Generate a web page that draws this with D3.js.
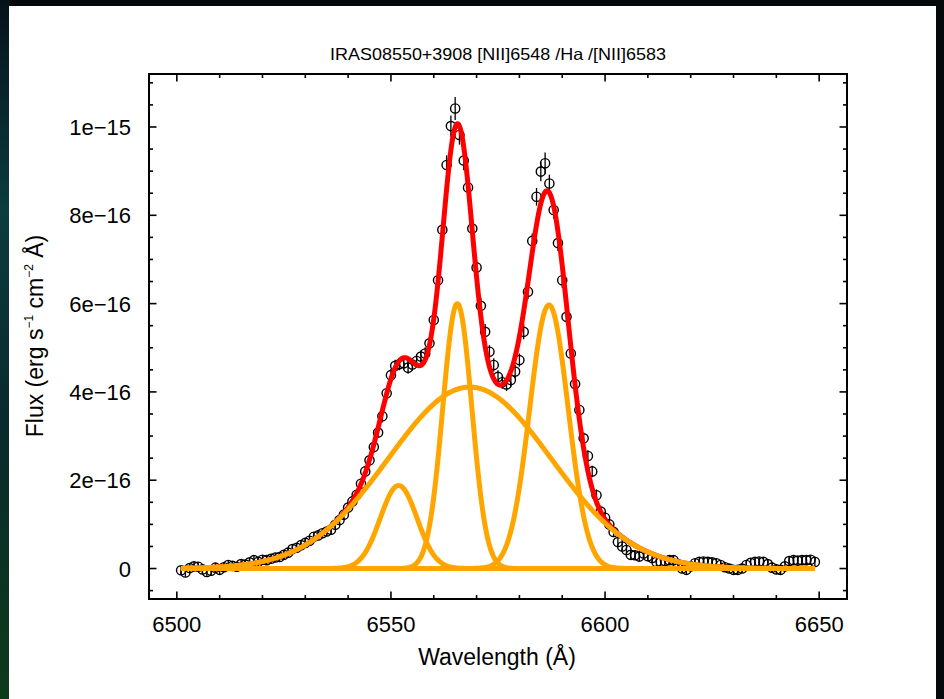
<!DOCTYPE html>
<html><head><meta charset="utf-8">
<script src="https://cdn.jsdelivr.net/npm/d3@7"></script>
<style>html,body{margin:0;padding:0;background:#05090c;} svg{display:block;}</style>
</head><body>
<svg id="c" width="944" height="699"></svg>
<script>
// ---------------- DATA (flux in units of 1e-16 erg s^-1 cm^-2 Å^-1) ----------------
const titleText = "IRAS08550+3908 [NII]6548 /Ha /[NII]6583";
const wavelengthStart = 6501, wavelengthEnd = 6649; // 1 Å sampling
const fluxObserved = [
 -0.04,-0.09, 0.01, 0.05, 0.04,-0.02,-0.08,-0.05, 0.02,-0.03,   // 6501-6510
  0.03, 0.08, 0.06, 0.04, 0.10, 0.09, 0.14, 0.19, 0.15, 0.20,   // 6511-6520
  0.19, 0.22, 0.25, 0.26, 0.31, 0.36, 0.44, 0.47, 0.53, 0.58,   // 6521-6530
  0.63, 0.72, 0.75, 0.80, 0.84, 0.88, 0.99, 1.10, 1.22, 1.38,   // 6531-6540
  1.52, 1.67, 1.92, 2.20, 2.45, 2.75, 3.08, 3.45, 3.97, 4.38,   // 6541-6550
  4.59, 4.63, 4.65, 4.55, 4.62, 4.70, 4.80, 4.87, 5.10, 5.63,   // 6551-6560
  6.53, 7.67, 9.14,10.02,10.42, 9.82, 9.24, 8.63, 7.70, 6.82,   // 6561-6570
  5.95, 5.36, 4.91, 4.61, 4.34, 4.22, 4.17, 4.27, 4.46, 4.72,   // 6571-6580
  5.36, 6.27, 7.42, 8.42, 8.99, 9.18, 8.72, 8.12, 7.37, 6.53,   // 6581-6590
  5.70, 4.87, 4.18, 3.59, 2.95, 2.55, 2.20, 1.66, 1.29, 1.15,   // 6591-6600
  1.00, 0.83, 0.60, 0.50, 0.42, 0.31, 0.30, 0.27, 0.34, 0.28,   // 6601-6610
  0.24, 0.15, 0.15, 0.17, 0.19, 0.19, 0.10, 0.00,-0.03, 0.05,   // 6611-6620
  0.12, 0.15, 0.16, 0.15, 0.14, 0.12, 0.08, 0.03, 0.00,-0.03,   // 6621-6630
 -0.03, 0.00, 0.08, 0.13, 0.15, 0.16, 0.15, 0.10, 0.02,-0.02,   // 6631-6640
 -0.03, 0.05, 0.17, 0.19, 0.18, 0.19, 0.19, 0.20, 0.15          // 6641-6649
];
const fluxError = [
  0.10,0.10,0.10,0.10,0.10,0.10,0.10,0.10,0.10,0.10,
  0.10,0.10,0.10,0.10,0.10,0.10,0.10,0.10,0.10,0.10,
  0.10,0.10,0.10,0.10,0.10,0.10,0.10,0.10,0.10,0.10,
  0.10,0.10,0.10,0.10,0.10,0.10,0.10,0.12,0.12,0.12,
  0.12,0.12,0.12,0.12,0.12,0.12,0.12,0.14,0.14,0.14,
  0.14,0.14,0.14,0.14,0.14,0.14,0.14,0.14,0.14,0.17,
  0.17,0.17,0.22,0.24,0.26,0.22,0.22,0.20,0.18,0.18,
  0.18,0.18,0.15,0.15,0.15,0.15,0.15,0.15,0.15,0.15,
  0.17,0.17,0.17,0.20,0.22,0.24,0.20,0.20,0.18,0.17,
  0.16,0.15,0.14,0.13,0.13,0.13,0.13,0.13,0.13,0.13,
  0.10,0.10,0.10,0.10,0.10,0.10,0.10,0.10,0.10,0.10,
  0.10,0.10,0.10,0.10,0.10,0.10,0.10,0.10,0.10,0.10,
  0.10,0.10,0.10,0.10,0.10,0.10,0.10,0.10,0.10,0.10,
  0.10,0.10,0.10,0.10,0.10,0.10,0.10,0.10,0.10,0.10,
  0.10,0.10,0.10,0.10,0.10,0.10,0.10,0.10,0.10
];
// Gaussian fit components: [NII]6548, Ha narrow, [NII]6583, Ha broad
const componentCenter    = [6551.8, 6565.5, 6586.9, 6568.4];
const componentAmplitude = [1.88,   6.00,   5.97,   4.11];
const componentSigma     = [4.3,    3.4,    4.5,    19.0];

const xTickValues = [6500, 6550, 6600, 6650];
const xTickLabels = ["6500", "6550", "6600", "6650"];
const yTickValues = [0, 2, 4, 6, 8, 10];
const yTickLabels = ["0", "2e\u221216", "4e\u221216", "6e\u221216", "8e\u221216", "1e\u221215"];

// ---------------- LAYOUT ----------------
const svg = d3.select("#c");
const W = 944, H = 699;
const L = 149, R = 847, T = 74, B = 599;
const FONT = "'Liberation Sans', Arial, Helvetica, sans-serif";

const defs = svg.append("defs");
const g1 = defs.append("linearGradient").attr("id","bgL").attr("x1",0).attr("y1",0).attr("x2",0).attr("y2",1);
g1.append("stop").attr("offset","0%").attr("stop-color","#06121a");
g1.append("stop").attr("offset","30%").attr("stop-color","#0c3b40");
g1.append("stop").attr("offset","60%").attr("stop-color","#0a2a2c");
g1.append("stop").attr("offset","100%").attr("stop-color","#0e3a1c");
svg.append("rect").attr("width",W).attr("height",H).attr("fill","#05090c");
svg.append("rect").attr("x",0).attr("y",0).attr("width",10).attr("height",H).attr("fill","url(#bgL)");
svg.append("rect").attr("x",9).attr("y",6).attr("width",927).attr("height",H-6).attr("fill","#ffffff");

const x = d3.scaleLinear().domain([6493.5, 6656.5]).range([L, R]);
const y = d3.scaleLinear().domain([-0.69, 11.2]).range([B, T]);

// title
svg.append("text").attr("x", 498).attr("y", 60).attr("text-anchor","middle")
  .attr("font-family", FONT).attr("font-size", 16.5)
  .attr("textLength", 336).attr("lengthAdjust","spacingAndGlyphs")
  .attr("fill","#000").text(titleText);

const plot = svg.append("g");
const clip = defs.append("clipPath").attr("id","pc");
clip.append("rect").attr("x",L).attr("y",T).attr("width",R-L).attr("height",B-T);

// data points with error bars
const wl = d3.range(wavelengthStart, wavelengthEnd + 1);
const pts = wl.map((w, i) => ({w, f: fluxObserved[i], e: fluxError[i]}));
const dg = plot.append("g").attr("clip-path","url(#pc)");
dg.selectAll("line.err").data(pts).join("line").attr("class","err")
  .attr("x1", d => x(d.w)).attr("x2", d => x(d.w))
  .attr("y1", d => y(d.f - d.e)).attr("y2", d => y(d.f + d.e))
  .attr("stroke","#000").attr("stroke-width",1.3);
dg.selectAll("circle").data(pts).join("circle")
  .attr("cx", d => x(d.w)).attr("cy", d => y(d.f)).attr("r", 4.6)
  .attr("fill","none").attr("stroke","#000").attr("stroke-width",1.4);

// fit curves
const fine = d3.range(wavelengthStart, wavelengthEnd + 0.001, 0.2);
const gauss = (k, w) => componentAmplitude[k] * Math.exp(-((w - componentCenter[k]) ** 2) / (2 * componentSigma[k] ** 2));
const line = d3.line().x(d => x(d[0])).y(d => y(d[1]));
const total = fine.map(w => [w, d3.sum(componentCenter, (c, k) => gauss(k, w))]);
plot.append("path").datum(total).attr("d", line).attr("fill","none")
  .attr("stroke","#ff0000").attr("stroke-width",5).attr("stroke-linejoin","round");
componentCenter.forEach((c, k) => {
  plot.append("path").datum(fine.map(w => [w, gauss(k, w)])).attr("d", line)
    .attr("fill","none").attr("stroke","#ffa500").attr("stroke-width",5).attr("stroke-linejoin","round");
});

// axes frame and ticks
const ax = svg.append("g").attr("stroke","#000");
const xMinor = d3.range(6500, 6651, 10);
const yMinor = d3.range(-0.5, 11.01, 0.5);
xMinor.forEach(v => {
  const major = xTickValues.includes(v);
  const len = major ? 7.5 : 4;
  ax.append("line").attr("x1",x(v)).attr("x2",x(v)).attr("y1",B).attr("y2",B-len).attr("stroke-width",1.6);
  ax.append("line").attr("x1",x(v)).attr("x2",x(v)).attr("y1",T).attr("y2",T+len).attr("stroke-width",1.6);
});
yMinor.forEach(v => {
  const major = yTickValues.some(t => Math.abs(t - v) < 1e-6);
  const len = major ? 7.5 : 4;
  ax.append("line").attr("y1",y(v)).attr("y2",y(v)).attr("x1",L).attr("x2",L+len).attr("stroke-width",1.6);
  ax.append("line").attr("y1",y(v)).attr("y2",y(v)).attr("x1",R).attr("x2",R-len).attr("stroke-width",1.6);
});
ax.append("rect").attr("x",L).attr("y",T).attr("width",R-L).attr("height",B-T)
  .attr("fill","none").attr("stroke-width",2);

// tick labels
svg.append("g").selectAll("text").data(xTickValues).join("text")
  .attr("x", d => x(d)).attr("y", 632).attr("text-anchor","middle")
  .attr("font-family",FONT).attr("font-size",22).text((d,i) => xTickLabels[i]);
svg.append("g").selectAll("text").data(yTickValues).join("text")
  .attr("x", 131).attr("y", d => y(d) + 8).attr("text-anchor","end")
  .attr("font-family",FONT).attr("font-size",22).text((d,i) => yTickLabels[i]);

// axis titles
svg.append("text").attr("x", 497).attr("y", 665).attr("text-anchor","middle")
  .attr("font-family",FONT).attr("font-size",23).text("Wavelength (\u00c5)");
const yl = svg.append("text").attr("transform","translate(43,336) rotate(-90)")
  .attr("text-anchor","middle").attr("font-family",FONT).attr("font-size",23);
yl.append("tspan").text("Flux (erg s");
yl.append("tspan").attr("dy",-10).attr("font-size",12).text("\u22121");
yl.append("tspan").attr("dy",10).text(" cm");
yl.append("tspan").attr("dy",-10).attr("font-size",12).text("\u22122");
yl.append("tspan").attr("dy",10).text(" \u00c5)");
</script>
</body></html>
